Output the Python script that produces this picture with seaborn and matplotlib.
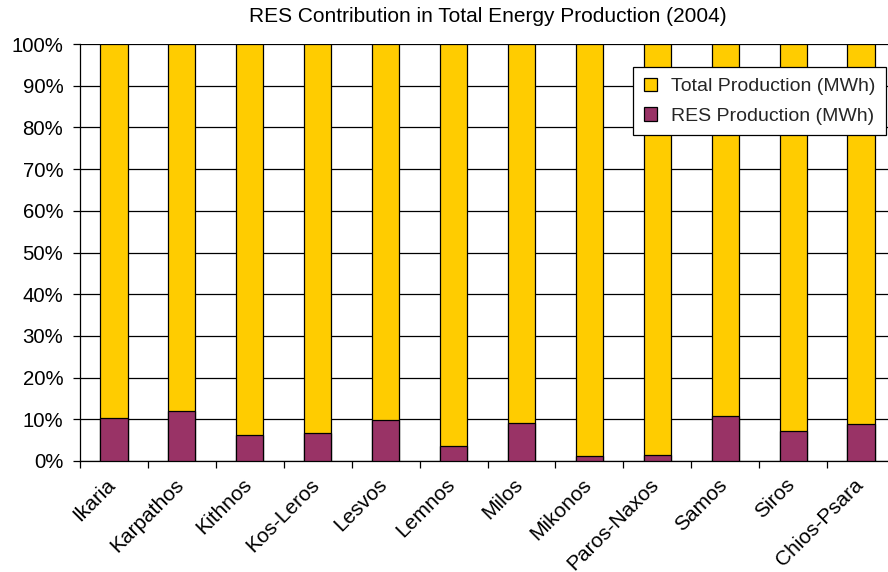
import matplotlib
matplotlib.use("Agg")
import matplotlib.pyplot as plt
from matplotlib.patches import Patch
from matplotlib.ticker import PercentFormatter, FixedLocator
from matplotlib.transforms import ScaledTranslation
import seaborn as sns
import pandas as pd
import numpy as np

islands = ["Ikaria", "Karpathos", "Kithnos", "Kos-Leros", "Lesvos", "Lemnos",
           "Milos", "Mikonos", "Paros-Naxos", "Samos", "Siros", "Chios-Psara"]
# RES share of total production per island, percent
res_share = [10.2, 11.9, 6.3, 6.7, 9.8, 3.5, 9.0, 1.3, 1.5, 10.8, 7.2, 8.9]
total_share = [100.0] * len(islands)

total_color = "#FFCC00"
res_color = "#993366"

df = pd.DataFrame({"island": islands, "total": total_share, "res": res_share})

sns.set_theme(style="white")
plt.rcParams["font.family"] = ["Liberation Sans", "DejaVu Sans"]

fig = plt.figure(figsize=(8.88, 5.72), dpi=100)
ax = fig.add_axes([80 / 888, 1 - 461 / 572, 815 / 888, 417 / 572])

sns.barplot(data=df, x="island", y="total", color=total_color, width=0.4,
            edgecolor="black", linewidth=0.9, saturation=1, ax=ax, zorder=3)
sns.barplot(data=df, x="island", y="res", color=res_color, width=0.4,
            edgecolor="black", linewidth=0.9, saturation=1, ax=ax, zorder=4)

ax.set_xlim(-0.5, len(islands) - 0.5)
ax.set_ylim(0, 100)
ax.yaxis.set_major_locator(FixedLocator(np.arange(0, 101, 10)))
ax.yaxis.set_major_formatter(PercentFormatter(decimals=0))
ax.grid(axis="y", color="black", linewidth=0.9, zorder=0)
ax.set_axisbelow(True)

for side in ["top", "right"]:
    ax.spines[side].set_visible(False)
for side in ["left", "bottom"]:
    ax.spines[side].set_color("black")
    ax.spines[side].set_linewidth(0.9)

ax.set_xlabel("")
ax.set_ylabel("")
ax.tick_params(axis="y", which="major", left=True, length=5, width=0.9,
               color="black", labelsize=14.7, labelcolor="black", pad=7)
ax.tick_params(axis="x", which="major", bottom=False, length=0, pad=10)
ax.set_xticks(np.arange(-0.5, len(islands), 1.0), minor=True)
ax.tick_params(axis="x", which="minor", bottom=True, length=5, width=0.9,
               color="black")
ax.set_xticks(range(len(islands)))
ax.set_xticklabels(islands, rotation=45, ha="right", va="top",
                   rotation_mode="anchor", fontsize=15, color="black")
shift = ScaledTranslation(-8 / 100, 0, fig.dpi_scale_trans)
for lab in ax.get_xticklabels():
    lab.set_transform(lab.get_transform() + shift)

ax.set_title("RES Contribution in Total Energy Production (2004)",
             fontsize=15, color="black", pad=16)

handles = [Patch(facecolor=total_color, edgecolor="black", linewidth=0.9,
                 label="Total Production (MWh)"),
           Patch(facecolor=res_color, edgecolor="black", linewidth=0.9,
                 label="RES Production (MWh)")]
leg = ax.legend(handles=handles, loc="upper right",
                bbox_to_anchor=(0.989, 0.945), borderaxespad=0,
                fontsize=14, frameon=True, fancybox=False, shadow=False,
                handlelength=0.7, handleheight=0.7, handletextpad=0.7,
                labelspacing=0.6, borderpad=0.55, framealpha=1)
leg.get_frame().set_edgecolor("black")
leg.get_frame().set_linewidth(0.9)
leg.set_zorder(10)

fig.savefig("out.png", dpi=100)
